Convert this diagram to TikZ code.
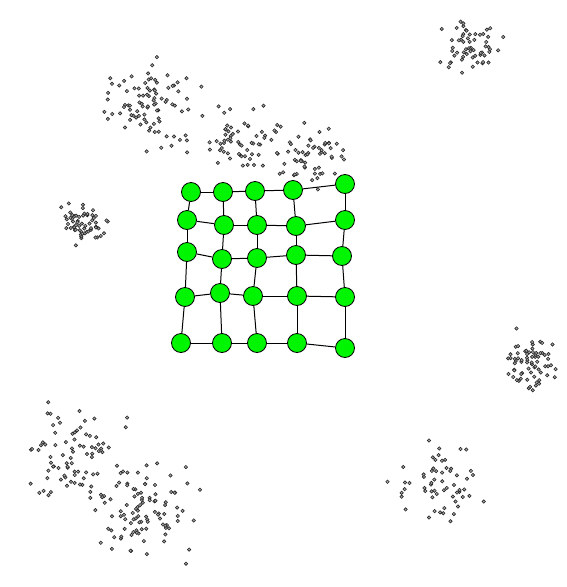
\documentclass[tikz,border=0pt]{standalone}
\definecolor{somgreen}{RGB}{0,245,0}
\newcommand\somcluster[5]{%
  \foreach \i in {1,...,#5}{%
    \pgfmathsetmacro\px{#1+#3*(rand+rand+rand)}%
    \pgfmathsetmacro\py{#2+#4*(rand+rand+rand)}%
    \draw[sample] (\px,\py) circle (1.7);
  }}
\tikzset{
  unit/.style={circle,draw=black,line width=0.8pt,fill=somgreen,minimum size=19pt,inner sep=0pt},
  link/.style={draw=black,line width=1pt},
  sample/.style={draw=black!85,fill=black!35,line width=0.6pt}
}
\begin{document}
\begin{tikzpicture}[x=1pt,y=-1pt]
\useasboundingbox (0,0) rectangle (567,587);
\pgfmathsetseed{7}
% data clusters
\somcluster{470}{43}{14}{12}{60}
\somcluster{152}{103}{22}{21}{90}
\somcluster{240}{137}{18}{16}{60}
\somcluster{310}{158}{18}{15}{60}
\somcluster{82}{222}{13}{10}{60}
\somcluster{533}{360}{12}{12}{70}
\somcluster{75}{458}{23}{22}{80}
\somcluster{145}{515}{24}{24}{100}
\somcluster{438}{483}{20}{19}{60}
% grid coordinates
\coordinate (p11) at (191,192); \coordinate (p12) at (223,192); \coordinate (p13) at (255,191); \coordinate (p14) at (293,190); \coordinate (p15) at (345,184);
\coordinate (p21) at (187,220); \coordinate (p22) at (224,225); \coordinate (p23) at (257,225); \coordinate (p24) at (296,226); \coordinate (p25) at (345,220);
\coordinate (p31) at (187,252); \coordinate (p32) at (222,259); \coordinate (p33) at (257,258); \coordinate (p34) at (296,255); \coordinate (p35) at (342,256);
\coordinate (p41) at (185,297); \coordinate (p42) at (220,293); \coordinate (p43) at (253,296); \coordinate (p44) at (297,296); \coordinate (p45) at (345,297);
\coordinate (p51) at (181,343); \coordinate (p52) at (222,343); \coordinate (p53) at (257,343); \coordinate (p54) at (297,343); \coordinate (p55) at (345,348);
\foreach \r in {1,...,5}{\foreach \c in {1,...,5}{\node[unit] (n\r\c) at (p\r\c) {};}}
% links
\foreach \r in {1,...,5}{\foreach \c/\d in {1/2,2/3,3/4,4/5}{\draw[link] (n\r\c) -- (n\r\d);}}
\foreach \c in {1,...,5}{\foreach \r/\s in {1/2,2/3,3/4,4/5}{\draw[link] (n\r\c) -- (n\s\c);}}
\end{tikzpicture}
\end{document}
